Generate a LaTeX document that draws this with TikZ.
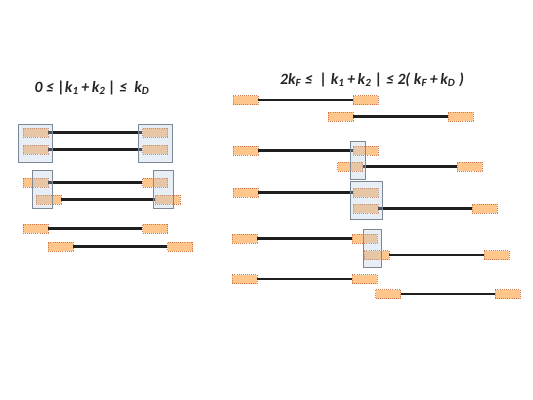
\documentclass[tikz,border=0pt]{standalone}
\usepackage{fontspec}
\setsansfont{Carlito}
\usepackage{tikz}
\usetikzlibrary{positioning}

\definecolor{endfill}{HTML}{FFC68C}
\definecolor{enddraw}{HTML}{CF7A4E}
\definecolor{grpfill}{HTML}{B0C8E0}
\definecolor{grpdraw}{HTML}{7E8894}

\newcommand{\sbs}[1]{\textsubscript{#1}}

\begin{document}
\begin{tikzpicture}[
    x=0.75pt, y=-0.75pt,
    endbox/.style={
        draw=enddraw,
        fill=endfill,
        densely dotted,
        line width=0.55pt,
        minimum width=18.75pt,
        minimum height=6.75pt,
        inner sep=0pt
    },
    linkline/.style={
        draw=black!88,
        line width=2.1pt
    },
    grpbox/.style={
        draw=grpdraw,
        fill=grpfill,
        fill opacity=0.3,
        draw opacity=1,
        line width=0.7pt
    },
    heading/.style={
        font=\sffamily\bfseries\itshape\fontsize{11.8}{14}\selectfont,
        text=black!85
    }
]
    \useasboundingbox (0,0) rectangle (533,400);

    % Titles
    \node[heading] (titleL) at (92,88) {0 ≤ |k\sbs{1}\,+\,k\sbs{2}\,| ≤ \ k\sbs{D}};
    \node[heading] (titleR) at (372,80) {2k\sbs{F} ≤ \ | k\sbs{1}\,+\,k\sbs{2} | ≤ 2( k\sbs{F}\,+\,k\sbs{D} )};

    % Left panel: pairs
    \node[endbox] (l1a) at (35.5,132.5) {};
    \node[endbox] (l1b) at (155,132.5) {};
    \node[endbox] (l2a) at (35.5,149.5) {};
    \node[endbox] (l2b) at (155,149.5) {};
    \node[endbox] (l3a) at (35.5,182.5) {};
    \node[endbox] (l3b) at (155,182.5) {};
    \node[endbox] (l4a) at (48.5,199.5) {};
    \node[endbox] (l4b) at (167.5,199.5) {};
    \node[endbox] (l5a) at (35.5,228.5) {};
    \node[endbox] (l5b) at (155,228.5) {};
    \node[endbox] (l6a) at (60.5,246.5) {};
    \node[endbox] (l6b) at (180,246.5) {};

    \draw[linkline] (l1a.east) -- (l1b.west);
    \draw[linkline] (l2a.east) -- (l2b.west);
    \draw[linkline] (l3a.east) -- (l3b.west);
    \draw[linkline] (l4a.east) -- (l4b.west);
    \draw[linkline] (l5a.east) -- (l5b.west);
    \draw[linkline] (l6a.east) -- (l6b.west);

    % Right panel: pairs
    \node[endbox] (r1a) at (245.5,100) {};
    \node[endbox] (r1b) at (365.5,100) {};
    \node[endbox] (r2a) at (340.5,116.5) {};
    \node[endbox] (r2b) at (460.5,116.5) {};
    \node[endbox] (r3a) at (245.5,150.5) {};
    \node[endbox] (r3b) at (365.5,150.5) {};
    \node[endbox] (r4a) at (350,166.5) {};
    \node[endbox] (r4b) at (469.5,166.5) {};
    \node[endbox] (r5a) at (245.5,192.5) {};
    \node[endbox] (r5b) at (365.5,192.5) {};
    \node[endbox] (r6a) at (365.5,208.5) {};
    \node[endbox] (r6b) at (484.5,208.5) {};
    \node[endbox] (r7a) at (244.5,238.5) {};
    \node[endbox] (r7b) at (364.5,238.5) {};
    \node[endbox] (r8a) at (376.5,255) {};
    \node[endbox] (r8b) at (496.5,255) {};
    \node[endbox] (r9a) at (244.5,279) {};
    \node[endbox] (r9b) at (364.5,279) {};
    \node[endbox] (r10a) at (388,294) {};
    \node[endbox] (r10b) at (507.5,294) {};

    \draw[linkline] (r1a.east) -- (r1b.west);
    \draw[linkline] (r2a.east) -- (r2b.west);
    \draw[linkline] (r3a.east) -- (r3b.west);
    \draw[linkline] (r4a.east) -- (r4b.west);
    \draw[linkline] (r5a.east) -- (r5b.west);
    \draw[linkline] (r6a.east) -- (r6b.west);
    \draw[linkline] (r7a.east) -- (r7b.west);
    \draw[linkline] (r8a.east) -- (r8b.west);
    \draw[linkline] (r9a.east) -- (r9b.west);
    \draw[linkline] (r10a.east) -- (r10b.west);

    % Overlap groups
    \draw[grpbox] (18,124) rectangle (52,162);
    \draw[grpbox] (138,124) rectangle (172,162);
    \draw[grpbox] (32,170) rectangle (52,208);
    \draw[grpbox] (153,170) rectangle (173,208);
    \draw[grpbox] (350,141) rectangle (365,179);
    \draw[grpbox] (350,181) rectangle (382,219);
    \draw[grpbox] (363,229) rectangle (381,267);
\end{tikzpicture}
\end{document}
